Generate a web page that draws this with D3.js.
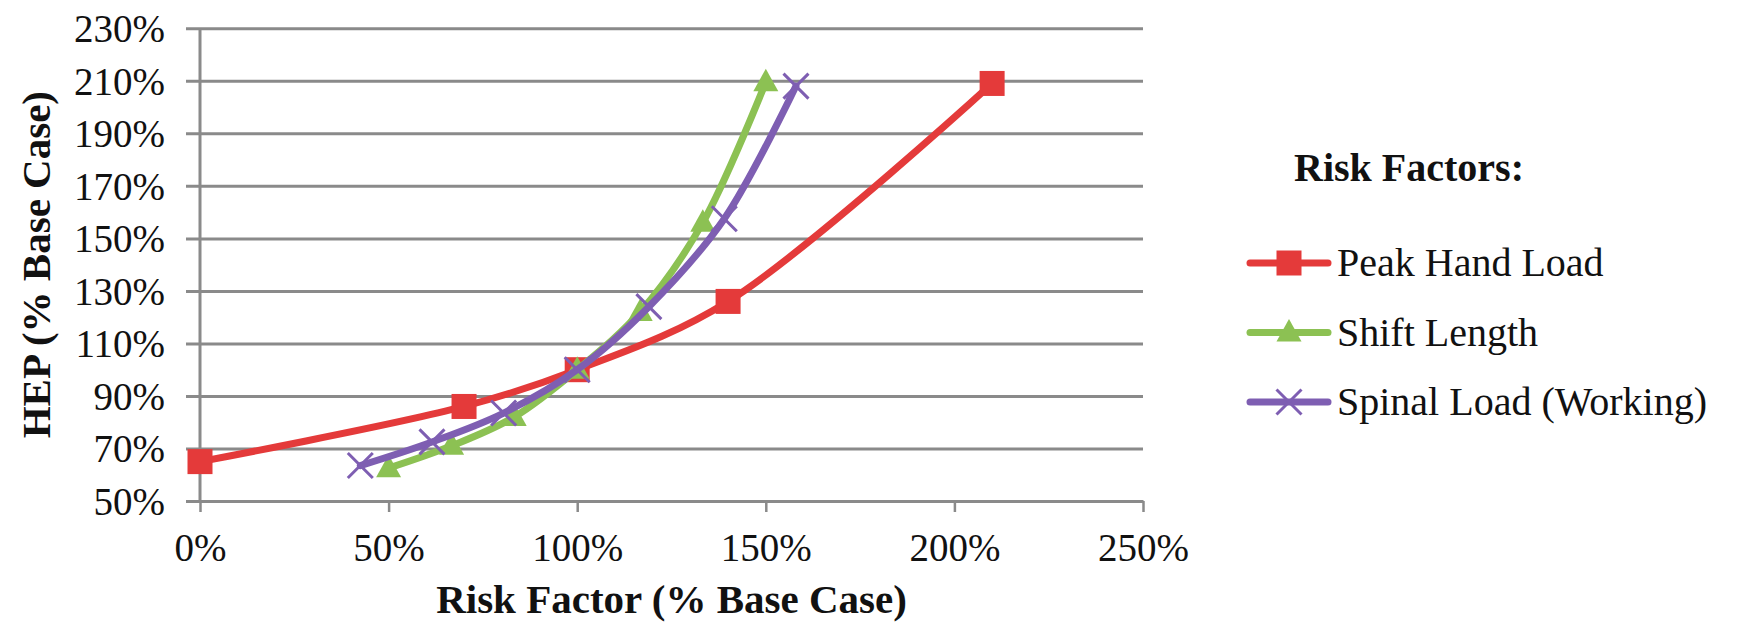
<!DOCTYPE html>
<html>
<head>
<meta charset="utf-8">
<script src="https://cdn.jsdelivr.net/npm/d3@7"></script>
<style>
  html, body { margin: 0; padding: 0; background: #ffffff; }
  svg { display: block; }
  svg text { font-family: "Liberation Serif", "DejaVu Serif", "Times New Roman", serif !important; fill: #111; }
</style>
</head>
<body>
<svg id="chart" width="1737" height="631"></svg>
<script>
// Risk factor level (% of base case) and resulting HEP (% of base case)
const peakHandX = [0, 70, 100, 140, 210];
const peakHandY = [65, 86, 100, 126, 209];

const shiftLengthX = [50, 66.7, 83.3, 100, 116.7, 133.3, 150];
const shiftLengthY = [62.5, 71, 82, 100, 122, 156, 209.5];

const spinalLoadX = [42.5, 61.5, 80.5, 100, 119, 139, 158];
const spinalLoadY = [63.5, 72.5, 83.5, 100, 124, 157.5, 208];

const seriesNames = ["Peak Hand Load", "Shift Length", "Spinal Load (Working)"];
const seriesColors = ["#e43a3a", "#8cc153", "#7e5eb2"];
const seriesMarkers = ["square", "triangle", "cross"];

const xTicks = [0, 50, 100, 150, 200, 250];
const yTicks = [50, 70, 90, 110, 130, 150, 170, 190, 210, 230];

const xTitle = "Risk Factor (% Base Case)";
const yTitle = "HEP (% Base Case)";
const legendTitle = "Risk Factors:";

const FONT = '"Liberation Serif", "DejaVu Serif", "Times New Roman", serif';

const series = [
  { xs: peakHandX, ys: peakHandY },
  { xs: shiftLengthX, ys: shiftLengthY },
  { xs: spinalLoadX, ys: spinalLoadY }
].map((s, i) => ({
  name: seriesNames[i],
  color: seriesColors[i],
  marker: seriesMarkers[i],
  points: s.xs.map((x, j) => ({ x, y: s.ys[j] }))
}));

const svg = d3.select("#chart");
const plot = { left: 200, right: 1143, top: 28.3, bottom: 501 };

const x = d3.scaleLinear().domain([0, 250]).range([plot.left, plot.right]);
const y = d3.scaleLinear().domain([50, 230]).range([plot.bottom, plot.top]);
const pct = d => d + "%";

// Horizontal gridlines, extended left as tick marks
const yAxis = d3.axisLeft(y).tickValues(yTicks).tickFormat(pct)
  .tickSize(-(plot.right - plot.left)).tickPadding(35);
const gy = svg.append("g").attr("transform", `translate(${plot.left},0)`).call(yAxis)
  .attr("font-family", null).attr("font-size", null);
gy.select(".domain").remove();
gy.selectAll(".tick line")
  .attr("x1", -14)
  .attr("stroke", "#8a8a8a").attr("stroke-width", 3);
gy.selectAll(".tick text")
  .style("font-family", FONT).style("font-size", "39px")
  .attr("dy", "0.34em").attr("fill", "#111");

// Vertical axis line
svg.append("line")
  .attr("x1", plot.left).attr("x2", plot.left)
  .attr("y1", plot.top).attr("y2", plot.bottom)
  .attr("stroke", "#8a8a8a").attr("stroke-width", 3);

// Bottom axis
const xAxis = d3.axisBottom(x).tickValues(xTicks).tickFormat(pct)
  .tickSizeInner(11).tickSizeOuter(0).tickPadding(21);
const gx = svg.append("g").attr("transform", `translate(0,${plot.bottom})`).call(xAxis)
  .attr("font-family", null).attr("font-size", null);
gx.select(".domain").attr("stroke", "#8a8a8a").attr("stroke-width", 3);
gx.selectAll(".tick line").attr("stroke", "#8a8a8a").attr("stroke-width", 2.5);
gx.selectAll(".tick text")
  .style("font-family", FONT).style("font-size", "39px")
  .attr("dy", "0.72em").attr("fill", "#111");

// Axis titles
svg.append("text")
  .attr("x", (plot.left + plot.right) / 2).attr("y", 613)
  .attr("text-anchor", "middle")
  .style("font-family", FONT).style("font-size", "41px").style("font-weight", "bold")
  .text(xTitle);
svg.append("text")
  .attr("transform", `translate(50,${(plot.top + plot.bottom) / 2}) rotate(-90)`)
  .attr("text-anchor", "middle")
  .style("font-family", FONT).style("font-size", "41px").style("font-weight", "bold")
  .text(yTitle);

// Marker shapes
function drawMarker(g, type, color, size) {
  if (type === "square") {
    g.append("rect")
      .attr("x", -size / 2).attr("y", -size / 2)
      .attr("width", size).attr("height", size)
      .attr("fill", color);
  } else if (type === "triangle") {
    const h = size * 0.9;
    g.append("path")
      .attr("d", `M0,${-h * 0.6}L${size / 2},${h * 0.4}L${-size / 2},${h * 0.4}Z`)
      .attr("fill", color);
  } else {
    const r = size / 2;
    g.append("path")
      .attr("d", `M${-r},${-r}L${r},${r}M${-r},${r}L${r},${-r}`)
      .attr("stroke", color).attr("stroke-width", 3).attr("fill", "none");
  }
}

// Smoothed series lines
const line = d3.line()
  .x(d => x(d.x)).y(d => y(d.y))
  .curve(d3.curveCatmullRom.alpha(0.5));

const gSeries = svg.append("g");
series.forEach(s => {
  const g = gSeries.append("g");
  g.append("path")
    .datum(s.points)
    .attr("d", line)
    .attr("fill", "none")
    .attr("stroke", s.color)
    .attr("stroke-width", 7)
    .attr("stroke-linejoin", "round")
    .attr("stroke-linecap", "round");
  g.selectAll("g.pt").data(s.points).enter().append("g")
    .attr("class", "pt")
    .attr("transform", d => `translate(${x(d.x)},${y(d.y)})`)
    .each(function () { drawMarker(d3.select(this), s.marker, s.color, 25); });
});

// Legend
const legend = svg.append("g");
legend.append("text")
  .attr("x", 1294).attr("y", 181)
  .style("font-family", FONT).style("font-size", "40px").style("font-weight", "bold")
  .text(legendTitle);

const legendRow = d3.scaleLinear().domain([0, 1]).range([263, 332.5]);
series.forEach((s, i) => {
  const ly = legendRow(i);
  const row = legend.append("g").attr("transform", `translate(0,${ly})`);
  row.append("line")
    .attr("x1", 1250).attr("x2", 1328).attr("y1", 0).attr("y2", 0)
    .attr("stroke", s.color).attr("stroke-width", 7).attr("stroke-linecap", "round");
  const m = row.append("g").attr("transform", "translate(1289,0)");
  drawMarker(m, s.marker, s.color, 25);
  row.append("text")
    .attr("x", 1337).attr("y", 0).attr("dy", "0.33em")
    .style("font-family", FONT).style("font-size", "40px")
    .text(s.name);
});
</script>
</body>
</html>
